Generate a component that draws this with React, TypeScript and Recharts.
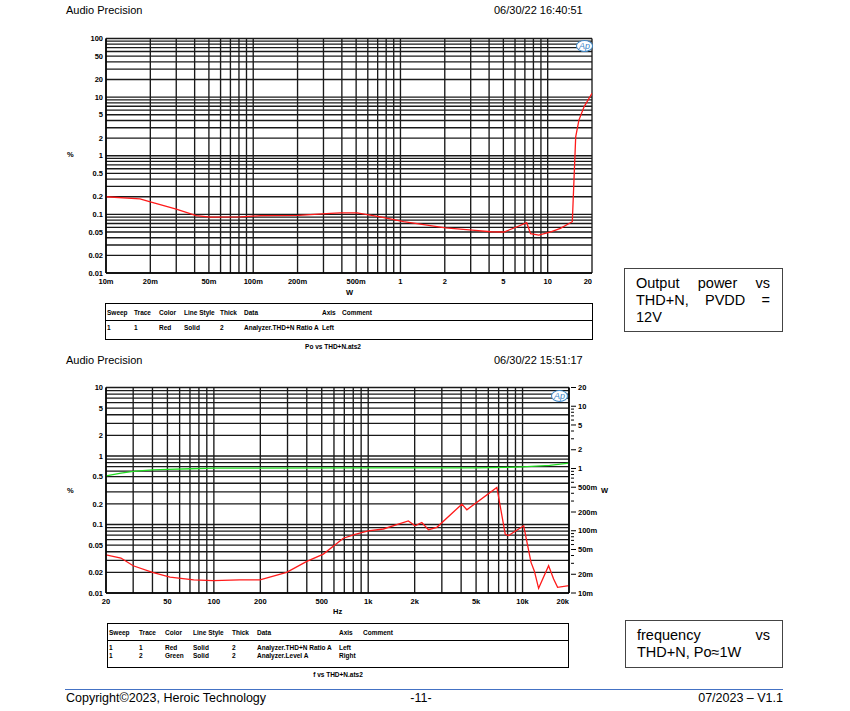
import React from "react"
import { LineChart, Line, XAxis, YAxis, CartesianGrid } from "recharts"

// top chart: output power (W) vs THD+N (%)
const powerW = [0.01, 0.017, 0.02, 0.03, 0.041, 0.051, 0.082, 0.112, 0.203, 0.334, 0.39, 0.507, 0.73, 1.05, 2.02, 3.07, 4.1, 5.05, 6.2, 7.2, 7.65, 8.7, 10.5, 12.2, 14.7, 15.5, 16.3, 17.7, 20]
const thdVsPower = [0.2, 0.184, 0.164, 0.123, 0.095, 0.09, 0.091, 0.095, 0.096, 0.104, 0.106, 0.106, 0.091, 0.075, 0.059, 0.054, 0.0505, 0.05, 0.0615, 0.072, 0.047, 0.0443, 0.0505, 0.0577, 0.075, 2.1, 4.06, 6.9, 11.6]

// bottom chart: frequency (Hz) vs THD+N (%) and output level (W)
const freqHz = [20, 25, 30, 40, 52, 74, 99, 147, 199, 296, 400, 512, 690, 822, 1000, 1254, 1568, 1820, 2013, 2225, 2457, 2784, 4045, 4357, 6820, 7726, 8122, 10170, 11350, 11920, 12710, 14750, 15900, 16870, 20000]
const thdVsFreq = [0.036, 0.0324, 0.025, 0.02, 0.017, 0.0155, 0.0152, 0.0155, 0.0155, 0.02, 0.029, 0.037, 0.063, 0.072, 0.081, 0.086, 0.101, 0.113, 0.096, 0.107, 0.084, 0.091, 0.198, 0.164, 0.347, 0.072, 0.069, 0.096, 0.028, 0.021, 0.0117, 0.025, 0.016, 0.0121, 0.0128]
const levelFreqHz = [20, 25, 30, 40, 50, 70, 100, 1000, 5000, 8000, 10000, 15000, 20000]
const levelW = [0.76, 0.84, 0.9, 0.95, 0.97, 0.99, 1.01, 1.02, 1.02, 1.04, 1.06, 1.12, 1.22]

// grid / tick values
const pctTicksTop = [0.01, 0.02, 0.03, 0.04, 0.05, 0.06, 0.07, 0.08, 0.09, 0.1, 0.2, 0.3, 0.4, 0.5, 0.6, 0.7, 0.8, 0.9, 1, 2, 3, 4, 5, 6, 7, 8, 9, 10, 20, 30, 40, 50, 60, 70, 80, 90, 100]
const pctLabelsTop = [0.01, 0.02, 0.05, 0.1, 0.2, 0.5, 1, 2, 5, 10, 20, 50, 100]
const wattTicks = [0.01, 0.02, 0.03, 0.04, 0.05, 0.06, 0.07, 0.08, 0.09, 0.1, 0.2, 0.3, 0.4, 0.5, 0.6, 0.7, 0.8, 0.9, 1, 2, 3, 4, 5, 6, 7, 8, 9, 10, 20]
const wattLabels = [0.01, 0.02, 0.05, 0.1, 0.2, 0.5, 1, 2, 5, 10, 20]
const pctTicksBottom = [0.01, 0.02, 0.03, 0.04, 0.05, 0.06, 0.07, 0.08, 0.09, 0.1, 0.2, 0.3, 0.4, 0.5, 0.6, 0.7, 0.8, 0.9, 1, 2, 3, 4, 5, 6, 7, 8, 9, 10]
const pctLabelsBottom = [0.01, 0.02, 0.05, 0.1, 0.2, 0.5, 1, 2, 5, 10]
const hzTicks = [20, 30, 40, 50, 60, 70, 80, 90, 100, 200, 300, 400, 500, 600, 700, 800, 900, 1000, 2000, 3000, 4000, 5000, 6000, 7000, 8000, 9000, 10000, 20000]
const hzLabels = [20, 50, 100, 200, 500, 1000, 2000, 5000, 10000, 20000]

const topData = powerW.map((x, i) => ({ x, y: thdVsPower[i] }))
const thdFreqData = freqHz.map((x, i) => ({ x, y: thdVsFreq[i] }))
const levelData = levelFreqHz.map((x, i) => ({ x, y: levelW[i] }))

const FONT = '"Liberation Sans", Arial, sans-serif'
const tickStyle = { fontSize: 7.5, fontWeight: 700, fill: "#000", fontFamily: FONT }

const near = (v: number, list: number[]) => list.some((l) => Math.abs(l - v) / l < 1e-6)
const fmtPct = (list: number[]) => (v: number) => (near(v, list) ? String(v) : "")
const fmtMilli = (list: number[]) => (v: number) => {
  if (!near(v, list)) return ""
  if (v < 1) return `${Math.round(v * 1000)}m`
  return String(v)
}
const fmtHz = (v: number) => {
  if (!near(v, hzLabels)) return ""
  return v >= 1000 ? `${v / 1000}k` : String(v)
}

// x tick: last label is right-aligned to the plot edge
function XTick(props: any) {
  const { x, y, payload, fmt, last } = props
  const label = fmt(payload.value)
  if (!label) return null
  const isLast = Math.abs(payload.value - last) / last < 1e-6
  return (
    <text x={x} y={y + 4} dy="0.71em" textAnchor={isLast ? "end" : "middle"} {...tickStyle}>
      {label}
    </text>
  )
}

function RightTick(props: any) {
  const { x, y, payload } = props
  const major = near(payload.value, wattLabels)
  return (
    <g>
      <line x1={x} y1={y} x2={x + (major ? 5 : 3)} y2={y} stroke="#000" strokeWidth={1} />
      {major && (
        <text x={x + 7} y={y} dy="0.35em" textAnchor="start" {...tickStyle}>
          {fmtMilli(wattLabels)(payload.value)}
        </text>
      )}
    </g>
  )
}

const abs = (left: number, top: number, extra: React.CSSProperties = {}): React.CSSProperties => ({
  position: "absolute",
  left,
  top,
  fontFamily: FONT,
  whiteSpace: "nowrap",
  ...extra,
})

function ApLogo({ left, top }: { left: number; top: number }) {
  return (
    <div
      style={abs(left, top, {
        width: 15,
        height: 10,
        border: "1px solid #3a86c8",
        borderRadius: "50%",
        color: "#3a86c8",
        fontStyle: "italic",
        fontSize: 9,
        lineHeight: "10px",
        textAlign: "center",
        background: "#fff",
      })}
    >
      Ap
    </div>
  )
}

function LegendTable({ left, top, width, height, cols, rows }: { left: number; top: number; width: number; height: number; cols: number[]; rows: string[][] }) {
  const headers = ["Sweep", "Trace", "Color", "Line Style", "Thick", "Data", "Axis", "Comment"]
  const small: React.CSSProperties = { fontSize: 6.5, fontWeight: 700 }
  return (
    <div style={abs(left, top, { width, height, border: "1px solid #000", boxSizing: "border-box" })}>
      <div style={{ position: "absolute", left: 0, right: 0, top: 16, borderTop: "1px solid #000" }} />
      {headers.map((h, i) => (
        <div key={h} style={abs(cols[i], 5, small)}>
          {h}
        </div>
      ))}
      {rows.map((r, ri) =>
        r.map((c, ci) => (
          <div key={`${ri}-${ci}`} style={abs(cols[ci], 20 + ri * 8, small)}>
            {c}
          </div>
        ))
      )}
    </div>
  )
}

function NoteBox({ left, top, width, height, lines }: { left: number; top: number; width: number; height: number; lines: string[][] }) {
  return (
    <div style={abs(left, top, { width, height, border: "1px solid #444", boxSizing: "border-box", padding: "6px 12px 0 11px" })}>
      {lines.map((words, i) => (
        <div
          key={i}
          style={{ display: "flex", justifyContent: words.length > 1 ? "space-between" : "flex-start", fontSize: 14.5, lineHeight: "17px", fontFamily: FONT }}
        >
          {words.map((w) => (
            <span key={w}>{w}</span>
          ))}
        </div>
      ))}
    </div>
  )
}

export default function App() {
  const hdr: React.CSSProperties = { fontSize: 11 }
  const axisTitle: React.CSSProperties = { fontSize: 7.5, fontWeight: 700 }
  const gridProps = { stroke: "#1a1a1a", strokeWidth: 1.35 }
  return (
    <div style={{ position: "absolute", left: 0, top: 0, width: 850, height: 711, background: "#fff", overflow: "hidden" }}>
      {/* ---------- top chart ---------- */}
      <div style={abs(66, 4, hdr)}>Audio Precision</div>
      <div style={abs(494, 4, hdr)}>06/30/22 16:40:51</div>
      <div style={abs(67, 150, axisTitle)}>%</div>
      <div style={abs(346, 288, axisTitle)}>W</div>
      <div style={abs(60, 30)}>
        <LineChart width={545} height={270} margin={{ top: 8.5, right: 13, bottom: 7, left: 6 }} data={topData}>
          <CartesianGrid {...gridProps} />
          <XAxis
            dataKey="x"
            type="number"
            scale="log"
            domain={[0.01, 20]}
            ticks={wattTicks}
            interval={0}
            tick={<XTick fmt={fmtMilli(wattLabels)} last={20} />}
            tickLine={false}
            tickSize={0}
            height={20}
            axisLine={{ stroke: "#000", strokeWidth: 1.5 }}
            allowDataOverflow
          />
          <YAxis
            type="number"
            scale="log"
            domain={[0.01, 100]}
            ticks={pctTicksTop}
            interval={0}
            tickFormatter={fmtPct(pctLabelsTop)}
            tick={tickStyle}
            tickLine={false}
            tickSize={0}
            tickMargin={3}
            width={40}
            axisLine={{ stroke: "#000", strokeWidth: 1.5 }}
            allowDataOverflow
          />
          <Line dataKey="y" stroke="#ff1a1a" strokeWidth={1.3} dot={false} isAnimationActive={false} type="linear" />
        </LineChart>
      </div>
      <ApLogo left={576} top={40} />
      <LegendTable
        left={105}
        top={303}
        width={488}
        height={37}
        cols={[1, 28, 53, 78, 114, 138, 216, 236]}
        rows={[["1", "1", "Red", "Solid", "2", "Analyzer.THD+N Ratio A", "Left", ""]]}
      />
      <div style={abs(0, 343, { width: 666, textAlign: "center", fontSize: 6.5, fontWeight: 700 })}>Po vs THD+N.ats2</div>
      <NoteBox left={624} top={268} width={159} height={64} lines={[["Output", "power", "vs"], ["THD+N,", "PVDD", "="], ["12V"]]} />

      {/* ---------- bottom chart ---------- */}
      <div style={abs(66, 354, hdr)}>Audio Precision</div>
      <div style={abs(494, 354, hdr)}>06/30/22 15:51:17</div>
      <div style={abs(67, 486, axisTitle)}>%</div>
      <div style={abs(601, 486, axisTitle)}>W</div>
      <div style={abs(333, 607, axisTitle)}>Hz</div>
      <div style={abs(60, 380)}>
        <LineChart width={544} height={240} margin={{ top: 7.5, right: 5, bottom: 7, left: 6 }}>
          <CartesianGrid {...gridProps} yAxisId="left" />
          <XAxis
            dataKey="x"
            type="number"
            scale="log"
            domain={[20, 20000]}
            ticks={hzTicks}
            interval={0}
            tick={<XTick fmt={fmtHz} last={20000} />}
            tickLine={false}
            tickSize={0}
            height={20}
            axisLine={{ stroke: "#000", strokeWidth: 1.5 }}
            allowDataOverflow
          />
          <YAxis
            yAxisId="left"
            type="number"
            scale="log"
            domain={[0.01, 10]}
            ticks={pctTicksBottom}
            interval={0}
            tickFormatter={fmtPct(pctLabelsBottom)}
            tick={tickStyle}
            tickLine={false}
            tickSize={0}
            tickMargin={3}
            width={40}
            axisLine={{ stroke: "#000", strokeWidth: 1.5 }}
            allowDataOverflow
          />
          <YAxis
            yAxisId="right"
            orientation="right"
            type="number"
            scale="log"
            domain={[0.01, 20]}
            ticks={wattTicks}
            interval={0}
            tick={<RightTick />}
            tickLine={false}
            tickSize={0}
            width={30}
            axisLine={{ stroke: "#000", strokeWidth: 1.5 }}
            allowDataOverflow
          />
          <Line yAxisId="right" data={levelData} dataKey="y" stroke="#22dd22" strokeWidth={1.3} dot={false} isAnimationActive={false} type="linear" />
          <Line yAxisId="left" data={thdFreqData} dataKey="y" stroke="#ff1a1a" strokeWidth={1.3} dot={false} isAnimationActive={false} type="linear" />
        </LineChart>
      </div>
      <ApLogo left={551} top={390} />
      <LegendTable
        left={107}
        top={623}
        width={462}
        height={45}
        cols={[1, 31, 57, 85, 124, 149, 231, 255]}
        rows={[
          ["1", "1", "Red", "Solid", "2", "Analyzer.THD+N Ratio A", "Left", ""],
          ["1", "2", "Green", "Solid", "2", "Analyzer.Level A", "Right", ""],
        ]}
      />
      <div style={abs(0, 671, { width: 676, textAlign: "center", fontSize: 6.5, fontWeight: 700 })}>f vs THD+N.ats2</div>
      <NoteBox left={625} top={620} width={158} height={48} lines={[["frequency", "vs"], ["THD+N, Po≈1W"]]} />

      {/* ---------- footer ---------- */}
      <div style={{ position: "absolute", left: 65, top: 689, width: 718, borderTop: "1.5px solid #4472c4" }} />
      <div style={abs(66, 691, { fontSize: 12.5 })}>Copyright©2023, Heroic Technology</div>
      <div style={abs(0, 691, { width: 842, textAlign: "center", fontSize: 12.5 })}>-11-</div>
      <div style={abs(0, 691, { width: 783, textAlign: "right", fontSize: 12.5 })}>07/2023 – V1.1</div>
    </div>
  )
}
